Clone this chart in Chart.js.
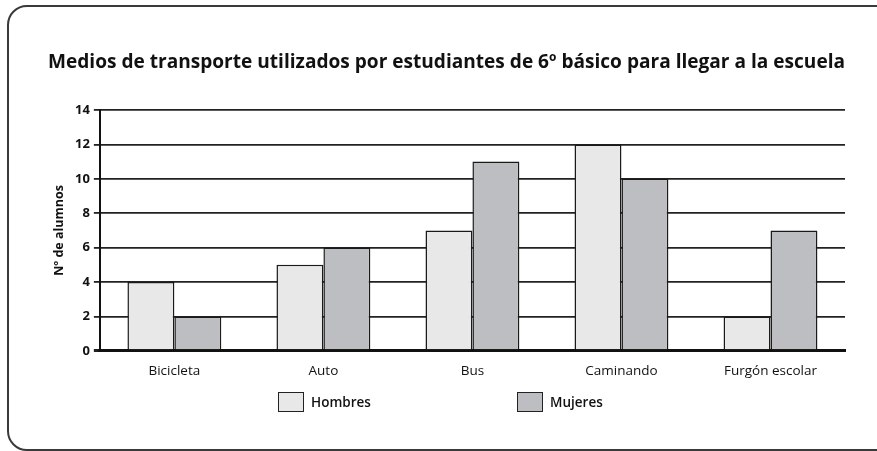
<!DOCTYPE html>
<html>
<head>
<meta charset="utf-8">
<script src="https://cdn.jsdelivr.net/npm/chart.js"></script>
<style>
  html, body { margin: 0; padding: 0; background: #fff; }
  #wrap { position: relative; width: 877px; height: 451px; overflow: hidden; }
  #frame {
    position: absolute; left: 7px; top: 5px; width: 920px; height: 442px;
    border: 2px solid #3a3a3a; border-radius: 20px;
  }
  canvas { position: absolute; left: 0; top: 0; }
  #legend {
    position: absolute; top: 392px; left: 0; width: 877px; height: 24px;
    font-family: "Open Sans", sans-serif; font-size: 13.5px; font-weight: 600; color: #111;
  }
  .item { position: absolute; top: 0; display: flex; align-items: center; }
  .box { width: 26px; height: 20px; border: 1.5px solid #222; margin-right: 7px; box-sizing: border-box; }
</style>
</head>
<body>
<div id="wrap">
  <div id="frame"></div>
  <canvas id="myChart" width="877" height="451"></canvas>
  <div id="legend"></div>
</div>
<script>
// datos
const categorias = ["Bicicleta", "Auto", "Bus", "Caminando", "Furgón escolar"];
const hombres = [4, 5, 7, 12, 2];
const mujeres = [2, 6, 11, 10, 7];
const series = ["Hombres", "Mujeres"];
const colores = ["#e8e8e8", "#bdbec1"];

// leyenda en html, separada como en el original
const legend = document.getElementById("legend");
const posiciones = [278, 517];
series.forEach((s, i) => {
    legend.innerHTML += `<div class="item" style="left:${posiciones[i]}px"><div class="box" style="background:${colores[i]}"></div>${s}</div>`;
});

const ctx = document.getElementById('myChart').getContext('2d');
const myChart = new Chart(ctx, {
    type: 'bar',
    data: {
        labels: categorias,
        datasets: [{
            label: series[0],
            data: hombres,
            backgroundColor: colores[0],
            borderColor: '#1a1a1a',
            borderWidth: 1.5
        }, {
            label: series[1],
            data: mujeres,
            backgroundColor: colores[1],
            borderColor: '#1a1a1a',
            borderWidth: 1.5
        }]
    },
    options: {
        responsive: false,
        animation: false,
        layout: { padding: { left: 48, right: 32, top: 50, bottom: 68 } },
        datasets: { bar: { categoryPercentage: 0.63, barPercentage: 1 } },
        plugins: {
            legend: { display: false },
            tooltip: { enabled: false },
            title: {
                display: true,
                text: 'Medios de transporte utilizados por estudiantes de 6º básico para llegar a la escuela',
                color: '#111',
                font: { family: 'Open Sans', size: 20, weight: 'bold' },
                padding: { top: 0, bottom: 36 }
            }
        },
        scales: {
            x: {
                grid: { display: false },
                border: { display: true, color: '#111', width: 3 },
                ticks: { color: '#111', font: { family: 'Open Sans', size: 13.5 }, padding: 4 }
            },
            y: {
                min: 0,
                max: 14,
                ticks: { stepSize: 2, color: '#111', font: { family: 'Open Sans', size: 13, weight: 'bold' }, padding: 4 },
                grid: {
                    color: '#222',
                    lineWidth: c => c.tick && c.tick.value === 0 ? 3 : 1.8,
                    tickLength: 6
                },
                border: { display: true, color: '#111', width: 2 },
                title: {
                    display: true,
                    text: 'Nº de alumnos',
                    color: '#111',
                    font: { family: 'Open Sans', size: 12.5, weight: 'bold' },
                    padding: 4
                }
            }
        }
    }
});
</script>
</body>
</html>
